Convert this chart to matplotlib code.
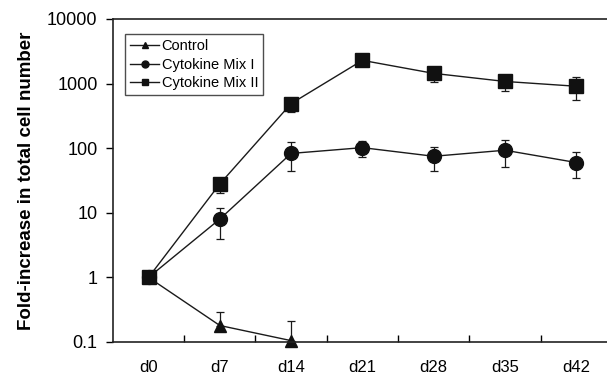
import numpy as np
import matplotlib.pyplot as plt
from matplotlib.lines import Line2D

plt.rcParams["font.family"] = ["Liberation Sans", "DejaVu Sans"]

# ------------------------------------------------------------------
# Fold-increase in total cell number per culture day
# ------------------------------------------------------------------
days = ["d0", "d7", "d14", "d21", "d28", "d35", "d42"]

control = [1, 0.18, 0.105]
control_err_up = [0, 0.11, 0.105]

mix1 = [1, 8, 83, 102, 75, 93, 60]
mix1_err_lo = [0, 4, 38, 30, 31, 41, 25]
mix1_err_up = [0, 4, 40, 25, 31, 39, 27]

mix2 = [1, 28, 490, 2290, 1440, 1080, 910]
mix2_err_lo = [0, 8, 130, 0, 390, 320, 360]
mix2_err_up = [0, 5, 110, 0, 360, 270, 340]

x = np.arange(len(days))

fig = plt.figure(figsize=(6.07, 3.80), dpi=100)
ax = fig.add_axes([0.186, 0.1, 0.822, 0.85])

line_kw = dict(color="#1a1a1a", lw=1.0, capsize=3, elinewidth=0.9,
               capthick=0.9, markeredgecolor="#111111", markerfacecolor="#111111",
               clip_on=False)

ax.errorbar(x[:len(control)], control, yerr=[np.zeros(len(control)), control_err_up],
            marker="^", ms=9, **line_kw)
ax.errorbar(x, mix1, yerr=[mix1_err_lo, mix1_err_up],
            marker="o", ms=10, **line_kw)
ax.errorbar(x, mix2, yerr=[mix2_err_lo, mix2_err_up],
            marker="s", ms=10, **line_kw)

ax.set_yscale("log")
ax.set_ylim(0.1, 10000)
ax.set_yticks([0.1, 1, 10, 100, 1000, 10000])
ax.set_yticklabels(["0.1", "1", "10", "100", "1000", "10000"])
ax.minorticks_off()

ax.set_xlim(-0.5, 6.5)
ax.set_xticks(x)
ax.set_xticklabels(days)
ax.tick_params(axis="x", length=0, pad=13, labelsize=12)
ax.set_xticks(np.arange(0.5, 6.5, 1), minor=True)
ax.tick_params(axis="x", which="minor", length=5, direction="in", width=1)
ax.tick_params(axis="y", length=5, direction="out", width=1, labelsize=13, pad=6)

for s in ax.spines.values():
    s.set_color("#222222")
    s.set_linewidth(1.2)
ax.spines["right"].set_visible(False)

ax.set_ylabel("Fold-increase in total cell number", fontsize=13.5, fontweight="bold",
              labelpad=9)

# legend shows plain line + marker, no error bars
handles = [
    Line2D([], [], color="#1a1a1a", lw=1.0, marker="^", ms=5, mfc="#111111", mec="#111111"),
    Line2D([], [], color="#1a1a1a", lw=1.0, marker="o", ms=5, mfc="#111111", mec="#111111"),
    Line2D([], [], color="#1a1a1a", lw=1.0, marker="s", ms=5, mfc="#111111", mec="#111111"),
]
labels = ["Control", "Cytokine Mix I", "Cytokine Mix II"]
leg = ax.legend(handles, labels, loc="upper left", bbox_to_anchor=(0.01, 0.975),
                fontsize=10.5, frameon=True, fancybox=False, edgecolor="#222222",
                handlelength=2.0, handletextpad=0.15, borderpad=0.35,
                labelspacing=0.3)
leg.get_frame().set_linewidth(1.0)

fig.savefig("out.png", dpi=100)
